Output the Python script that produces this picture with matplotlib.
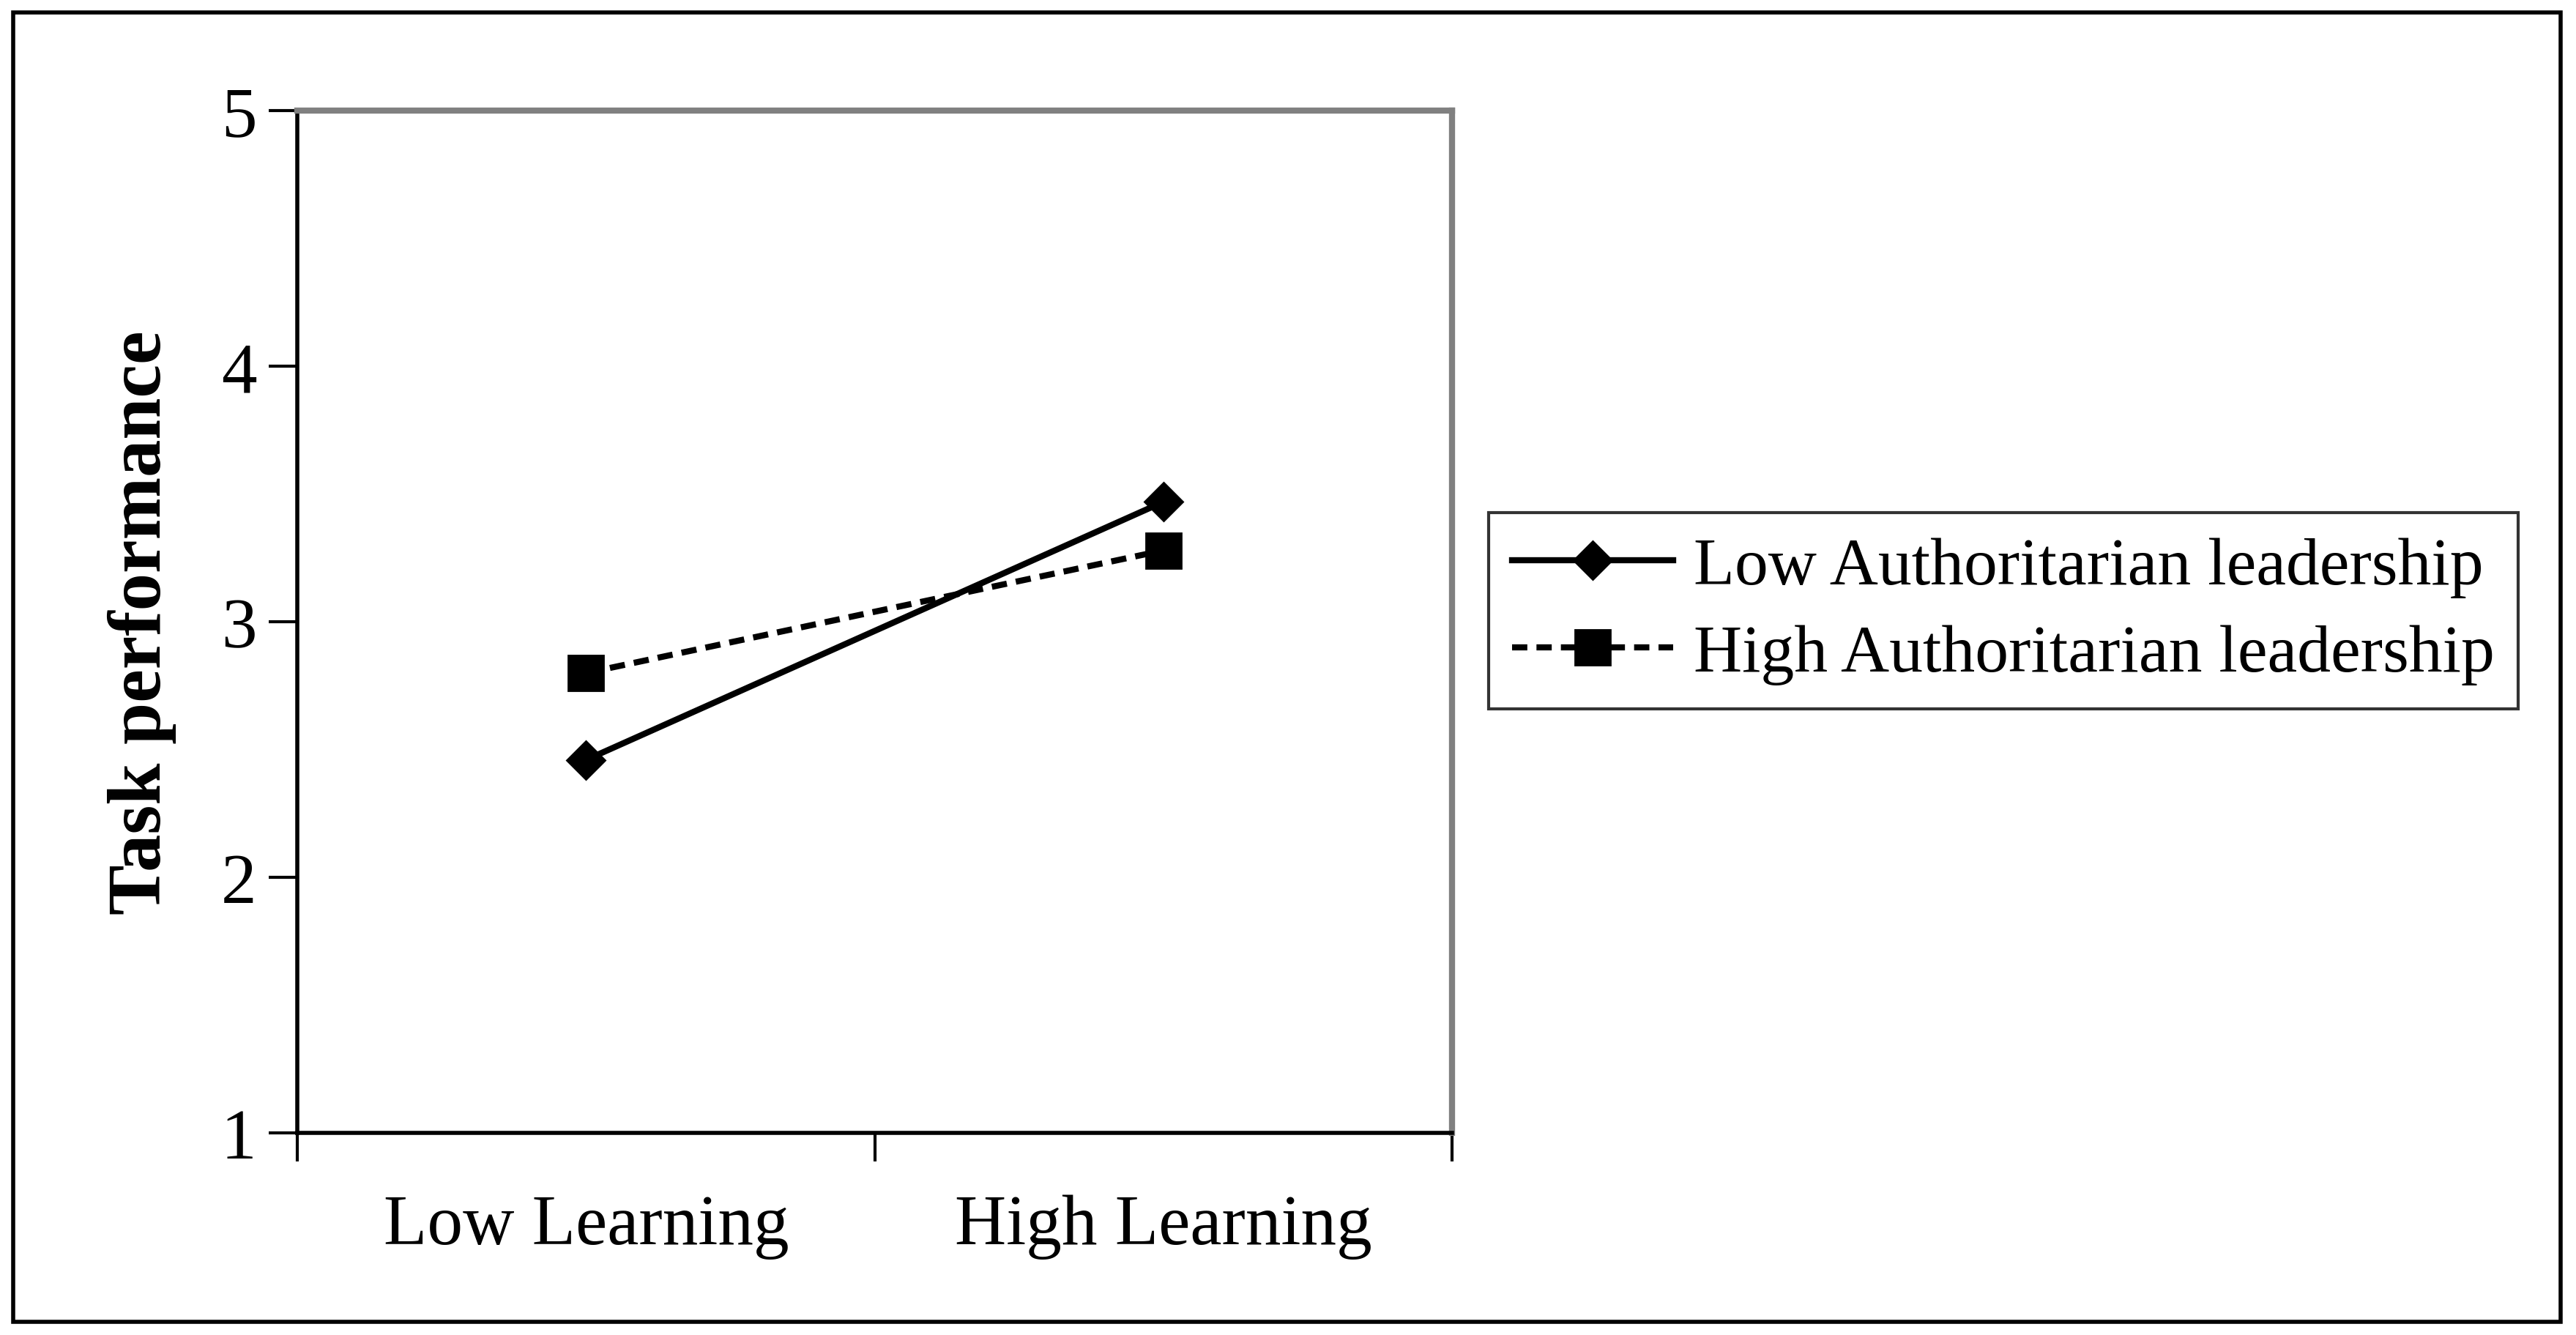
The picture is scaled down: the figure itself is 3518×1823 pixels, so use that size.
import matplotlib
matplotlib.use("Agg")
import matplotlib.pyplot as plt
from matplotlib.patches import Rectangle

categories = ["Low Learning", "High Learning"]
low_auth = [2.46, 3.47]
high_auth = [2.80, 3.28]
series_labels = ["Low Authoritarian leadership", "High Authoritarian leadership"]

plt.rcParams["font.family"] = ["Liberation Serif", "DejaVu Serif"]

fig = plt.figure(figsize=(17.59, 9.12), dpi=200)
ax = fig.add_axes([0.1154, 0.1513, 0.4484, 0.7651])

x = [0.5, 1.5]
ax.plot(x, low_auth, color="black", lw=3, marker="D", ms=13, label=series_labels[0])
ax.plot(x, high_auth, color="black", lw=3, ls=(0, (2.5, 1.5)), marker="s", ms=17,
        label=series_labels[1])

ax.set_xlim(0, 2)
ax.set_ylim(1, 5)
ax.set_yticks([1, 2, 3, 4, 5])
ax.set_xticks([0, 1, 2])
ax.set_xticklabels([])
ax.set_xticks(x, minor=True)
ax.set_xticklabels(categories, minor=True)
ax.tick_params(axis="x", which="minor", length=0, pad=30, labelsize=35)
ax.tick_params(axis="x", which="major", length=14, width=1.5, direction="out")
ax.tick_params(axis="y", length=14, width=1.5, direction="out", labelsize=35, pad=6)

for s in ["left", "bottom"]:
    ax.spines[s].set_color("black")
    ax.spines[s].set_linewidth(2)
for s in ["right", "top"]:
    ax.spines[s].set_color("#808080")
    ax.spines[s].set_linewidth(3)

ax.set_ylabel("Task performance", fontsize=37, fontweight="bold", labelpad=22)

leg = fig.legend(loc="lower left", bbox_to_anchor=(0.578, 0.469), borderaxespad=0,
                 fontsize=33, fancybox=False, frameon=True, handlelength=2.4,
                 borderpad=0.35, labelspacing=0.4, handletextpad=0.3)
leg.get_frame().set_edgecolor("black")
leg.get_frame().set_linewidth(1.5)

fig.patches.append(Rectangle((0.005, 0.01), 0.989, 0.98, transform=fig.transFigure,
                             fill=False, edgecolor="black", lw=2))

fig.savefig("out.png", dpi=200)
